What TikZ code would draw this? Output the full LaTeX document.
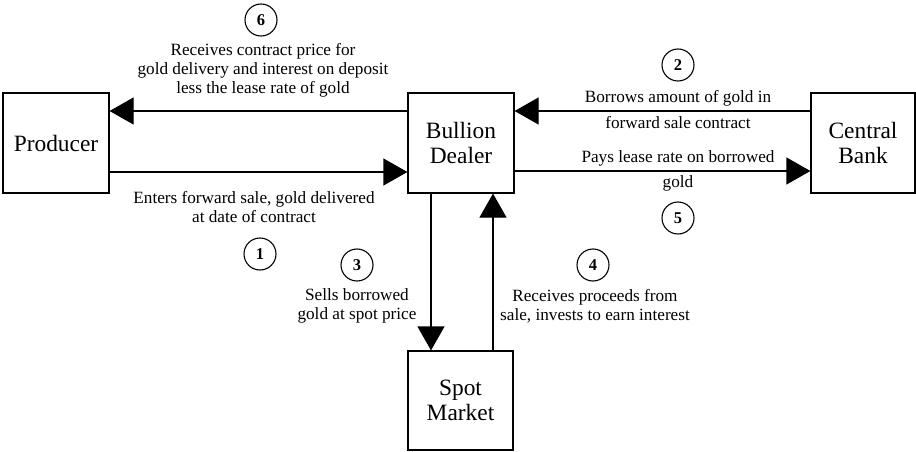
\documentclass[tikz,border=0pt]{standalone}
\usepackage{fontspec}
\setmainfont{Liberation Serif}
\newfontfamily\tms{Liberation Serif}
\usetikzlibrary{arrows.meta}
\tikzset{
  box/.style={draw, line width=1.2pt, inner sep=0pt, align=center,
    font=\tms\fontsize{23.4}{25}\selectfont},
  arr/.style={line width=1.2pt, -{Triangle[length=24pt,width=27pt]}},
  lbl/.style={align=center, inner sep=0pt, font=\tms\fontsize{17.2}{19}\selectfont},
  num/.style={draw, circle, line width=1.1pt, minimum size=32pt, inner sep=0pt,
    font=\tms\fontsize{16.5}{16.5}\selectfont\bfseries}
}
\begin{document}
\begin{tikzpicture}[x=1pt,y=-1pt]
\useasboundingbox (0,0) rectangle (916,452);
% boxes
\node[box, minimum width=106pt, minimum height=100pt] (prod) at (56,143) {Producer};
\node[box, minimum width=106pt, minimum height=100pt] (bull) at (461,143) {Bullion\\Dealer};
\node[box, minimum width=104pt, minimum height=100pt] (cb) at (863,143) {Central\\Bank};
\node[box, minimum width=105pt, minimum height=99pt] (spot) at (460.5,400.5) {Spot\\Market};
% connectors
\coordinate (b6) at ([yshift=32pt]bull.west);
\coordinate (b1) at ([yshift=-29pt]bull.west);
\coordinate (b2) at ([yshift=32pt]bull.east);
\coordinate (b5) at ([yshift=-28pt]bull.east);
\coordinate (b3) at ([xshift=-30pt]bull.south);
\coordinate (b4) at ([xshift=32pt]bull.south);
\draw[arr] (b6) -- (b6 -| prod.east);
\draw[arr] (b1 -| prod.east) -- (b1);
\draw[arr] (b2 -| cb.west) -- (b2);
\draw[arr] (b5) -- (b5 -| cb.west);
\draw[arr] (b3) -- (b3 |- spot.north);
\draw[arr] (b4 |- spot.north) -- (b4);
% labels
\node[lbl] (t6) at (263,70) {Receives contract price for\\gold delivery and interest on deposit\\less the lease rate of gold};
\node[lbl] (t1) at (254,207) {Enters forward sale, gold delivered\\at date of contract};
\node[lbl] (t2a) at (678,98) {Borrows amount of gold in};
\node[lbl] (t2b) at (678,123) {forward sale contract};
\node[lbl] (t5a) at (678,158) {Pays lease rate on borrowed};
\node[lbl] (t5b) at (678,183) {gold};
\node[lbl] (t3) at (357,306) {Sells borrowed\\gold at spot price};
\node[lbl] (t4) at (595,306) {Receives proceeds from\\sale, invests to earn interest};
% numbers
\node[num] (n6) at (261,20) {6};
\node[num] (n1) at (260,254) {1};
\node[num] (n2) at (678,65) {2};
\node[num] (n5) at (678,218) {5};
\node[num] (n3) at (357,265) {3};
\node[num] (n4) at (593,265) {4};
\end{tikzpicture}
\end{document}
